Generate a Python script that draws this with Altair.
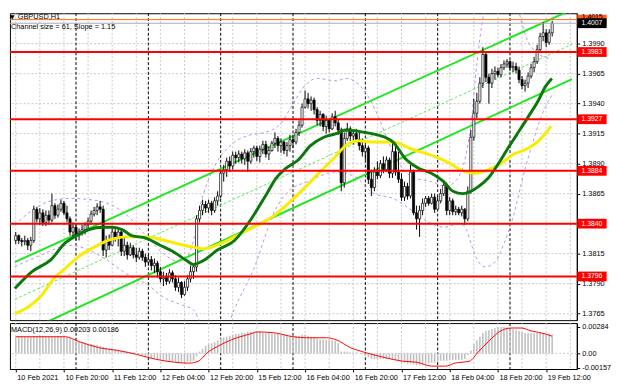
import altair as alt
import pandas as pd

# ---------------- data ----------------
FIRST_OPEN = 1.3826
CLOSE = [
    1.3830, 1.3826, 1.3825, 1.3826, 1.3822, 1.3826, 1.3852, 1.3844, 1.3849, 1.3841,
    1.3847, 1.3843, 1.3855, 1.3847, 1.3852, 1.3857, 1.3849, 1.3844, 1.3833, 1.3837,
    1.3830, 1.3833, 1.3835, 1.3839, 1.3842, 1.3848, 1.3851, 1.3854, 1.3852, 1.3818,
    1.3826, 1.3822, 1.3833, 1.3828, 1.3833, 1.3817, 1.3822, 1.3814, 1.3820, 1.3814,
    1.3812, 1.3817, 1.3812, 1.3808, 1.3810, 1.3805, 1.3807, 1.3800, 1.3794, 1.3795,
    1.3792, 1.3799, 1.3794, 1.3787, 1.3791, 1.3781, 1.3787, 1.3794, 1.3800, 1.3804,
    1.3844, 1.3851, 1.3856, 1.3853, 1.3857, 1.3851, 1.3859, 1.3863, 1.3882, 1.3885,
    1.3892, 1.3888, 1.3897, 1.3895, 1.3898, 1.3894, 1.3899, 1.3892, 1.3900, 1.3903,
    1.3896, 1.3902, 1.3906, 1.3898, 1.3901, 1.3907, 1.3911, 1.3905, 1.3908, 1.3901,
    1.3905, 1.3910, 1.3908, 1.3916, 1.3922, 1.3937, 1.3944, 1.3940, 1.3943, 1.3935,
    1.3926, 1.3931, 1.3921, 1.3926, 1.3919, 1.3929, 1.3924, 1.3918, 1.3874, 1.3911,
    1.3919, 1.3913, 1.3915, 1.3910, 1.3905, 1.3900, 1.3903, 1.3877, 1.3870, 1.3883,
    1.3880, 1.3890, 1.3885, 1.3893, 1.3882, 1.3900, 1.3883, 1.3877, 1.3862, 1.3871,
    1.3863, 1.3883, 1.3849, 1.3844, 1.3851, 1.3857, 1.3861, 1.3857, 1.3862, 1.3852,
    1.3859, 1.3865, 1.3872, 1.3851, 1.3859, 1.3850, 1.3852, 1.3849, 1.3852, 1.3844,
    1.3867, 1.3912, 1.3932, 1.3942, 1.3957, 1.3981, 1.3962, 1.3957, 1.3965, 1.3967,
    1.3964, 1.3970, 1.3973, 1.3975, 1.3970, 1.3971, 1.3968, 1.3960, 1.3955, 1.3957,
    1.3963, 1.3970, 1.3975, 1.3985, 1.3996, 1.3999, 1.3991, 1.3999, 1.4007,
]
HIGH = [
    1.3833, 1.3831, 1.3828, 1.3830, 1.3828, 1.3829, 1.3855, 1.3854, 1.3853, 1.3852,
    1.3851, 1.3851, 1.3865, 1.3857, 1.3856, 1.3860, 1.3859, 1.3855, 1.3846, 1.3841,
    1.3839, 1.3836, 1.3839, 1.3841, 1.3845, 1.3851, 1.3854, 1.3857, 1.3859, 1.3855,
    1.3830, 1.3831, 1.3838, 1.3836, 1.3836, 1.3835, 1.3828, 1.3825, 1.3824, 1.3822,
    1.3820, 1.3820, 1.3819, 1.3815, 1.3814, 1.3813, 1.3811, 1.3809, 1.3804, 1.3800,
    1.3799, 1.3802, 1.3801, 1.3797, 1.3795, 1.3792, 1.3792, 1.3797, 1.3805, 1.3807,
    1.3847, 1.3855, 1.3860, 1.3859, 1.3860, 1.3859, 1.3862, 1.3867, 1.3885, 1.3889,
    1.3895, 1.3896, 1.3900, 1.3900, 1.3901, 1.3900, 1.3902, 1.3901, 1.3903, 1.3905,
    1.3905, 1.3905, 1.3909, 1.3909, 1.3904, 1.3909, 1.3916, 1.3913, 1.3911, 1.3909,
    1.3908, 1.3914, 1.3914, 1.3919, 1.3926, 1.3940, 1.3951, 1.3949, 1.3946, 1.3945,
    1.3937, 1.3934, 1.3932, 1.3930, 1.3927, 1.3932, 1.3934, 1.3927, 1.3920, 1.3916,
    1.3924, 1.3921, 1.3918, 1.3919, 1.3916, 1.3911, 1.3908, 1.3905, 1.3885, 1.3887,
    1.3892, 1.3893, 1.3896, 1.3896, 1.3895, 1.3909, 1.3904, 1.3900, 1.3882, 1.3875,
    1.3874, 1.3889, 1.3885, 1.3855, 1.3855, 1.3861, 1.3863, 1.3863, 1.3865, 1.3865,
    1.3863, 1.3869, 1.3875, 1.3874, 1.3862, 1.3861, 1.3855, 1.3854, 1.3855, 1.3853,
    1.3871, 1.3918, 1.3944, 1.3949, 1.3962, 1.3987, 1.3983, 1.3965, 1.3969, 1.3971,
    1.3970, 1.3973, 1.3976, 1.3977, 1.3976, 1.3975, 1.3974, 1.3971, 1.3963, 1.3960,
    1.3966, 1.3973, 1.3979, 1.3989, 1.3999, 1.4008, 1.4002, 1.4002, 1.4009,
]
LOW = [
    1.3823, 1.3823, 1.3821, 1.3822, 1.3818, 1.3817, 1.3824, 1.3841, 1.3839, 1.3838,
    1.3838, 1.3839, 1.3841, 1.3844, 1.3845, 1.3850, 1.3847, 1.3841, 1.3830, 1.3829,
    1.3826, 1.3826, 1.3830, 1.3831, 1.3835, 1.3839, 1.3846, 1.3847, 1.3849, 1.3813,
    1.3812, 1.3818, 1.3821, 1.3825, 1.3821, 1.3813, 1.3813, 1.3810, 1.3813, 1.3811,
    1.3808, 1.3810, 1.3809, 1.3804, 1.3805, 1.3801, 1.3799, 1.3795, 1.3791, 1.3788,
    1.3789, 1.3790, 1.3791, 1.3784, 1.3783, 1.3778, 1.3780, 1.3784, 1.3791, 1.3794,
    1.3800, 1.3841, 1.3847, 1.3849, 1.3849, 1.3847, 1.3849, 1.3855, 1.3861, 1.3875,
    1.3879, 1.3883, 1.3885, 1.3890, 1.3891, 1.3890, 1.3889, 1.3883, 1.3890, 1.3895,
    1.3892, 1.3891, 1.3898, 1.3895, 1.3893, 1.3900, 1.3903, 1.3900, 1.3899, 1.3898,
    1.3896, 1.3900, 1.3903, 1.3906, 1.3913, 1.3920, 1.3936, 1.3936, 1.3934, 1.3931,
    1.3922, 1.3921, 1.3917, 1.3915, 1.3916, 1.3918, 1.3921, 1.3914, 1.3867, 1.3870,
    1.3909, 1.3909, 1.3906, 1.3908, 1.3901, 1.3896, 1.3893, 1.3873, 1.3863, 1.3867,
    1.3877, 1.3878, 1.3882, 1.3883, 1.3878, 1.3878, 1.3880, 1.3874, 1.3859, 1.3859,
    1.3860, 1.3861, 1.3847, 1.3835, 1.3829, 1.3847, 1.3854, 1.3855, 1.3856, 1.3849,
    1.3852, 1.3857, 1.3863, 1.3847, 1.3847, 1.3847, 1.3847, 1.3847, 1.3846, 1.3839,
    1.3842, 1.3865, 1.3909, 1.3928, 1.3940, 1.3953, 1.3958, 1.3940, 1.3953, 1.3960,
    1.3962, 1.3962, 1.3968, 1.3970, 1.3967, 1.3966, 1.3965, 1.3957, 1.3952, 1.3950,
    1.3953, 1.3961, 1.3966, 1.3973, 1.3983, 1.3992, 1.3987, 1.3989, 1.3996,
]

TIME_LABELS = ["10 Feb 2021", "10 Feb 20:00", "11 Feb 12:00", "12 Feb 04:00",
               "12 Feb 20:00", "15 Feb 12:00", "16 Feb 04:00", "16 Feb 20:00",
               "17 Feb 12:00", "18 Feb 04:00", "18 Feb 20:00", "19 Feb 12:00"]
TIME_LABEL_BARS = [0, 16, 32, 48, 64, 80, 96, 112, 128, 144, 160, 176]
DAY_START_BARS = [20, 44, 68, 92, 116, 140, 164]
GRID_BARS = [0, 8, 16, 24, 32, 40, 48, 56, 64, 72, 80, 88, 96, 104, 112, 120,
             128, 136, 144, 152, 160, 168, 176, 184]
GRID_PRICES = [1.3765, 1.3790, 1.3815, 1.3840, 1.3865, 1.3890, 1.3915,
               1.3940, 1.3965, 1.3990]
# 1.3840 sits under its red level box; 1.4015 sits at the very top edge
AXIS_PRICES = [1.3765, 1.3790, 1.3815, 1.3865, 1.3890, 1.3915,
               1.3940, 1.3965, 1.3990]
TOP_TICK = "1.4015"
LEVELS = [1.3983, 1.3927, 1.3884, 1.3840, 1.3796]
ASK_PRICE = 1.4010
LAST_PRICE = 1.4007

MA_GREEN_BAR = [-0.3, 5.4, 11.7, 16.4, 20.2, 24.3, 29.0, 32.2, 35.3, 38.5, 43.2, 47.9,
                52.7, 56.8, 59.0, 62.1, 66.9, 72.6, 77.9, 83.3, 86.4, 89.6, 93.7, 97.8,
                102.2, 106.3, 109.5, 115.8, 119.9, 125.2, 129.3, 133.8, 137.9, 142.0,
                145.1, 148.3, 151.1, 153.6, 156.8, 159.9, 163.1, 166.2, 170.3, 173.5,
                175.7, 177.9]
MA_GREEN = [1.3786, 1.3800, 1.3810, 1.3824, 1.3830, 1.3835, 1.3837, 1.3837, 1.3835,
            1.3830, 1.3828, 1.3822, 1.3816, 1.3809, 1.3806, 1.3809, 1.3818, 1.3826,
            1.3843, 1.3865, 1.3878, 1.3886, 1.3893, 1.3905, 1.3912, 1.3915, 1.3918,
            1.3916, 1.3914, 1.3908, 1.3894, 1.3886, 1.3882, 1.3875, 1.3867, 1.3865,
            1.3867, 1.3871, 1.3878, 1.3889, 1.3902, 1.3914, 1.3930, 1.3943, 1.3954,
            1.3961]
MA_YELLOW_BAR = [-0.3, 4.4, 8.5, 12.6, 17.0, 21.1, 26.5, 30.6, 36.9, 43.2, 49.5, 55.8,
                 59.9, 62.1, 68.5, 74.8, 81.1, 86.4, 90.5, 95.9, 100.9, 105.4, 109.5,
                 113.6, 118.9, 125.2, 131.5, 137.9, 144.2, 148.3, 152.7, 156.8, 160.9,
                 165.3, 169.4, 173.5, 177.6]
MA_YELLOW = [1.3765, 1.3771, 1.3780, 1.3794, 1.3804, 1.3813, 1.3821, 1.3826, 1.3829,
             1.3829, 1.3826, 1.3822, 1.3820, 1.3819, 1.3824, 1.3832, 1.3840, 1.3848,
             1.3857, 1.3870, 1.3883, 1.3894, 1.3905, 1.3909, 1.3908, 1.3908, 1.3902,
             1.3897, 1.3890, 1.3884, 1.3882, 1.3885, 1.3890, 1.3898, 1.3902, 1.3909,
             1.3921]
BB_UP_BAR = [-0.3, 5.4, 11.7, 18.0, 27.4, 32.2, 36.9, 43.2, 49.5, 53.3, 56.5, 59.0, 61.2,
             63.7, 66.9, 71.6, 77.9, 82.6, 87.4, 92.1, 95.3, 100.0, 106.3, 109.5, 114.2,
             117.4, 120.5, 123.7, 126.8, 131.5, 137.9, 142.6, 145.7, 148.9, 151.1, 153.0,
             155.2, 157.7, 163.1, 166.2, 169.4, 172.6, 177.9]
BB_UP = [1.3839, 1.3851, 1.3859, 1.3861, 1.3859, 1.3855, 1.3847, 1.3830, 1.3814, 1.3809,
         1.3812, 1.3826, 1.3855, 1.3875, 1.3892, 1.3906, 1.3914, 1.3916, 1.3922, 1.3940,
         1.3953, 1.3961, 1.3959, 1.3961, 1.3955, 1.3944, 1.3928, 1.3908, 1.3892, 1.3879,
         1.3875, 1.3871, 1.3875, 1.3892, 1.3924, 1.3973, 1.4014, 1.4030, 1.4034, 1.4022,
         1.3995, 1.3983, 1.3977]
BB_LO_BAR = [-0.3, 8.5, 18.0, 24.3, 30.6, 36.9, 43.2, 49.5, 54.3, 59.0, 62.1, 66.9, 70.0,
             72.6, 78.9, 86.4, 90.5, 96.8, 106.3, 112.6, 118.9, 125.2, 131.5, 137.9,
             142.0, 147.3, 149.5, 151.4, 153.6, 155.8, 159.0, 162.1, 165.3, 168.5,
             171.6, 174.8, 177.9]
BB_LO = [1.3804, 1.3814, 1.3822, 1.3818, 1.3809, 1.3798, 1.3790, 1.3778, 1.3773, 1.3768,
         1.3753, 1.3745, 1.3753, 1.3769, 1.3802, 1.3853, 1.3867, 1.3875, 1.3883, 1.3879,
         1.3865, 1.3861, 1.3851, 1.3840, 1.3837, 1.3840, 1.3835, 1.3821, 1.3808, 1.3804,
         1.3808, 1.3824, 1.3848, 1.3881, 1.3908, 1.3932, 1.3947]
CH_BAR = [-0.3, 184.55]
CH_UPPER = [1.3808, 1.40183]
CH_MID = [1.37769, 1.39894]
CH_LOWER = [1.37458, 1.39604]

MACD_HIST = [
    0.00176, 0.00179, 0.00181, 0.00180, 0.00178, 0.00177, 0.00182, 0.00184, 0.00183,
    0.00181, 0.00180, 0.00179, 0.00178, 0.00180, 0.00181, 0.00179, 0.00177,
    0.00170, 0.00160, 0.00150, 0.00140, 0.00130,
    0.00120, 0.00110, 0.00100, 0.00100, 0.00090, 0.00090, 0.00080,
    0.00070, 0.00060, 0.00050, 0.00050, 0.00040, 0.00040,
    0.00030, 0.00020, 0.00020, 0.00010, 0.00010, 0.00000,
    -0.00010, -0.00020, -0.00030, -0.00040, -0.00050,
    -0.00060, -0.00060, -0.00070, -0.00080, -0.00080, -0.00080, -0.00090, -0.00090,
    -0.00100, -0.00100, -0.00100, -0.00090, -0.00090,
    -0.00080, -0.00030, 0.00020,
    0.00050, 0.00080, 0.00100, 0.00110, 0.00120,
    0.00140, 0.00160, 0.00170, 0.00180, 0.00190, 0.00200,
    0.00210, 0.00210, 0.00220, 0.00220, 0.00230, 0.00230, 0.00230, 0.00230,
    0.00230, 0.00220, 0.00220, 0.00220, 0.00210, 0.00210, 0.00210,
    0.00200, 0.00200, 0.00190, 0.00190, 0.00190, 0.00190, 0.00190, 0.00200,
    0.00200, 0.00190, 0.00180, 0.00170, 0.00160, 0.00150,
    0.00150, 0.00148, 0.00145, 0.00140, 0.00135, 0.00110,
    0.00020, 0.00020, 0.00020, 0.00010, 0.00010, 0.00010, 0.00000, -0.00010,
    -0.00020, -0.00040, -0.00060, -0.00060, -0.00060,
    -0.00060, -0.00060, -0.00060, -0.00060, -0.00070, -0.00070, -0.00080,
    -0.00100, -0.00100, -0.00110, -0.00110, -0.00120, -0.00130, -0.00130, -0.00120,
    -0.00120,
    -0.00110, -0.00100, -0.00100, -0.00090, -0.00080, -0.00080, -0.00080,
    -0.00070, -0.00070, -0.00070, -0.00070, -0.00070, -0.00060,
    -0.00020, 0.00030,
    0.00100, 0.00140, 0.00180, 0.00220,
    0.00240, 0.00250, 0.00260, 0.00270, 0.00280,
    0.00284, 0.00284, 0.00280, 0.00270, 0.00260,
    0.00250, 0.00240, 0.00230, 0.00220, 0.00220, 0.00220,
    0.00220, 0.00220, 0.00220, 0.00215, 0.00210, 0.00210, 0.00203,
]
SIGNAL_BAR = [0, 16.4, 21.1, 27.4, 33.8, 40.1, 46.4, 52.7, 57.4, 60.6, 63.7, 66.9, 71.6,
              77.9, 80.1, 85.8, 92.1, 96.8, 103.1, 106.3, 111.0, 115.8, 122.1, 128.4,
              133.1, 137.9, 142.6, 145.7, 150.5, 153.6, 156.8, 161.5, 164.7, 167.8,
              171.0, 175.7, 177.9]
SIGNAL = [0.00179, 0.00179, 0.00126, 0.00063, 0.00032, -0.00011, -0.00063, -0.00095,
          -0.00105, -0.00084, 0.00011, 0.00074, 0.00147, 0.00210, 0.00231, 0.00221,
          0.00179, 0.00168, 0.00168, 0.00147, 0.00063, 0.00011, -0.00042, -0.00084,
          -0.00095, -0.00137, -0.00137, -0.00105, -0.00084, 0.00021, 0.00126, 0.00252,
          0.00273, 0.00273, 0.00242, 0.00210, 0.00186]
MACD_TICKS = [-0.00157, 0.0, 0.00284]

# ---------------- tables ----------------
opens = [FIRST_OPEN] + CLOSE[:-1]
candles = pd.DataFrame({
    "i": list(range(len(CLOSE))),
    "o": opens,
    "c": CLOSE,
    "h": [max(h, o, c) for h, o, c in zip(HIGH, opens, CLOSE)],
    "l": [min(l, o, c) for l, o, c in zip(LOW, opens, CLOSE)],
})
candles["fillc"] = ["white" if c >= o else "black" for o, c in zip(opens, CLOSE)]
hist = pd.DataFrame({"i": list(range(len(MACD_HIST))), "v": MACD_HIST})

# ---------------- styling ----------------
FONT = "Liberation Sans"
FS = 7.5
W, HM, HD = 580, 314, 47
xs = alt.Scale(domain=[-0.3, 184.55], nice=False, zero=False)
ys = alt.Scale(domain=[1.37596, 1.40153], nice=False, zero=False)
ms = alt.Scale(domain=[-0.00168, 0.00326], nice=False, zero=False)
BOX_X = 595.5
RECT = "M -1 -0.3333 L 1 -0.3333 L 1 0.3333 L -1 0.3333 Z"

Y_AXIS = alt.Axis(
    orient="right", values=AXIS_PRICES, format=".4f", title=None,
    labelFont=FONT, labelFontSize=FS, labelColor="black", tickColor="black",
    tickSize=3, domainColor="black", labelPadding=2, grid=False,
    labelOverlap=False, labelFlush=False)
label_arr = "[" + ",".join(f"'{t}'" for t in TIME_LABELS) + "]"
X_AXIS = alt.Axis(
    orient="bottom", values=TIME_LABEL_BARS,
    labelExpr=f"{label_arr}[round(datum.value / 16)]",
    labelAlign="left", labelBaseline="top", labelPadding=2, labelOffset=1,
    tickSize=3, tickColor="black", domainColor="black", labelFont=FONT,
    labelFontSize=FS, labelColor="black", grid=False, title=None,
    labelOverlap=False, labelFlush=False)
M_AXIS = alt.Axis(
    orient="right", values=MACD_TICKS, title=None, grid=False,
    labelExpr="datum.value == 0 ? '0.00' : (datum.value < 0 ? '-' + format(-datum.value, '.5f') : format(datum.value, '.5f'))",
    labelFont=FONT, labelFontSize=FS, labelColor="black", tickColor="black",
    tickSize=3, domainColor="black", labelPadding=2, labelOverlap=False,
    labelFlush=False)


def XM(f="b"):
    return alt.X(f"{f}:Q", scale=xs, axis=None)


def YM(f="p"):
    return alt.Y(f"{f}:Q", scale=ys, axis=Y_AXIS)


def XD(f="b"):
    return alt.X(f"{f}:Q", scale=xs, axis=X_AXIS)


def YD(f="v"):
    return alt.Y(f"{f}:Q", scale=ms, axis=M_AXIS)


def line(bars, vals, color, width, dash=None, interp="monotone", macd=False):
    df = pd.DataFrame({"b": bars, "p": vals})
    kw = dict(color=color, strokeWidth=width, clip=True, interpolate=interp)
    if dash:
        kw["strokeDash"] = dash
    if macd:
        return alt.Chart(df).mark_line(**kw).encode(x=XD(), y=YD("p"))
    return alt.Chart(df).mark_line(**kw).encode(x=XM(), y=YM())


def label(text, x, y, size=FS, font=FONT, baseline="middle"):
    return alt.Chart(pd.DataFrame({"t": [text]})).mark_text(
        font=font, fontSize=size, color="black", align="left", baseline=baseline
    ).encode(x=alt.value(x), y=alt.value(y), text="t:N")


# ---------------- main panel ----------------
hgrid = alt.Chart(pd.DataFrame({"p": GRID_PRICES})).mark_rule(
    color="#c8c8c8", strokeDash=[2, 2], strokeWidth=1).encode(y=YM())
vgrid = alt.Chart(pd.DataFrame({"b": GRID_BARS})).mark_rule(
    color="#c8c8c8", strokeDash=[2, 2], strokeWidth=1).encode(x=XM())
days = alt.Chart(pd.DataFrame({"b": DAY_START_BARS})).mark_rule(
    color="black", strokeDash=[3, 2], strokeWidth=1).encode(x=XM())

bb_up = line(BB_UP_BAR, BB_UP, "#c08ee6", 1, dash=[3, 3])
bb_lo = line(BB_LO_BAR, BB_LO, "#c08ee6", 1, dash=[3, 3])
ch_up = line(CH_BAR, CH_UPPER, "#1ee61e", 2, interp="linear")
ch_lo = line(CH_BAR, CH_LOWER, "#1ee61e", 2, interp="linear")
ch_mid = line(CH_BAR, CH_MID, "#5ee65e", 1, dash=[3, 2], interp="linear")

wicks = alt.Chart(candles).mark_rule(color="black", strokeWidth=1).encode(
    x=XM("i"), y=YM("l"), y2="h")
bodies = alt.Chart(candles).mark_bar(size=2.2, stroke="black", strokeWidth=0.7).encode(
    x=XM("i"), y=YM("o"), y2="c", fill=alt.Fill("fillc:N", scale=None))

ma_y = line(MA_YELLOW_BAR, MA_YELLOW, "#f8ec00", 3)
ma_g = line(MA_GREEN_BAR, MA_GREEN, "#0a780a", 3)

levels = alt.Chart(pd.DataFrame({"p": LEVELS})).mark_rule(
    color="#ff0000", strokeWidth=2).encode(y=YM())
ask = alt.Chart(pd.DataFrame({"p": [ASK_PRICE]})).mark_rule(
    color="#ff6a1a", strokeWidth=1).encode(y=YM())
bid = alt.Chart(pd.DataFrame({"p": [LAST_PRICE]})).mark_rule(
    color="#a8a8a8", strokeWidth=1).encode(y=YM())

box_df = pd.DataFrame({
    "p": LEVELS + [ASK_PRICE, LAST_PRICE],
    "bg": ["#ff0000"] * len(LEVELS) + ["#ff5a1e", "#000000"],
    "k": list(range(len(LEVELS) + 2)),
})
txt_df = pd.DataFrame({
    "p": LEVELS + [LAST_PRICE],
    "t": [f"{v:.4f}" for v in LEVELS + [LAST_PRICE]],
})
boxes = alt.Chart(box_df).mark_point(
    shape=RECT, size=900, filled=True, opacity=1, strokeWidth=0
).encode(x=alt.value(BOX_X), y=YM(), color=alt.Color("bg:N", scale=None),
         order=alt.Order("k:Q"))
box_txt = alt.Chart(txt_df).mark_text(
    font=FONT, fontSize=7, color="white", align="center", baseline="middle"
).encode(x=alt.value(BOX_X), y=YM(), text="t:N")

top_tick = label(TOP_TICK, 585, 5.5, size=7, baseline="alphabetic")
tri = label("▼", 0, 4, size=6, font="DejaVu Sans")
sym = label("GBPUSD,H1", 8, 4)
chan = label("Channel size = 61, Slope = 1.15", 1, 14)

main = alt.layer(
    hgrid, vgrid, days, bb_up, bb_lo, ch_mid, ch_up, ch_lo, wicks, bodies,
    ma_y, ma_g, levels, ask, bid, boxes, box_txt, top_tick, tri, sym, chan
).properties(width=W, height=HM)

# ---------------- MACD panel ----------------
zero = alt.Chart(pd.DataFrame({"v": [0.0]})).mark_rule(
    color="#c8c8c8", strokeDash=[2, 2], strokeWidth=1).encode(y=YD())
vgrid2 = alt.Chart(pd.DataFrame({"b": GRID_BARS})).mark_rule(
    color="#c8c8c8", strokeDash=[2, 2], strokeWidth=1).encode(x=XD())
days2 = alt.Chart(pd.DataFrame({"b": DAY_START_BARS})).mark_rule(
    color="black", strokeDash=[3, 2], strokeWidth=1).encode(x=XD())
bars = alt.Chart(hist).mark_bar(size=1.6, color="#c0c0c0").encode(
    x=XD("i"), y=YD(), y2=alt.datum(0))
sig = line(SIGNAL_BAR, SIGNAL, "#ff0000", 1, macd=True)
mtxt = label("MACD(12,26,9) 0.00203 0.00186", 1, 7)

macd = alt.layer(zero, vgrid2, days2, bars, sig, mtxt).properties(width=W, height=HD)

chart = alt.vconcat(main, macd, spacing=1).properties(
    padding={"left": 0, "top": 0, "right": 0, "bottom": 0},
    background="white",
).configure_view(stroke="black", strokeWidth=1)

chart.save("out.html", embed_options={"renderer": "svg", "actions": False})
